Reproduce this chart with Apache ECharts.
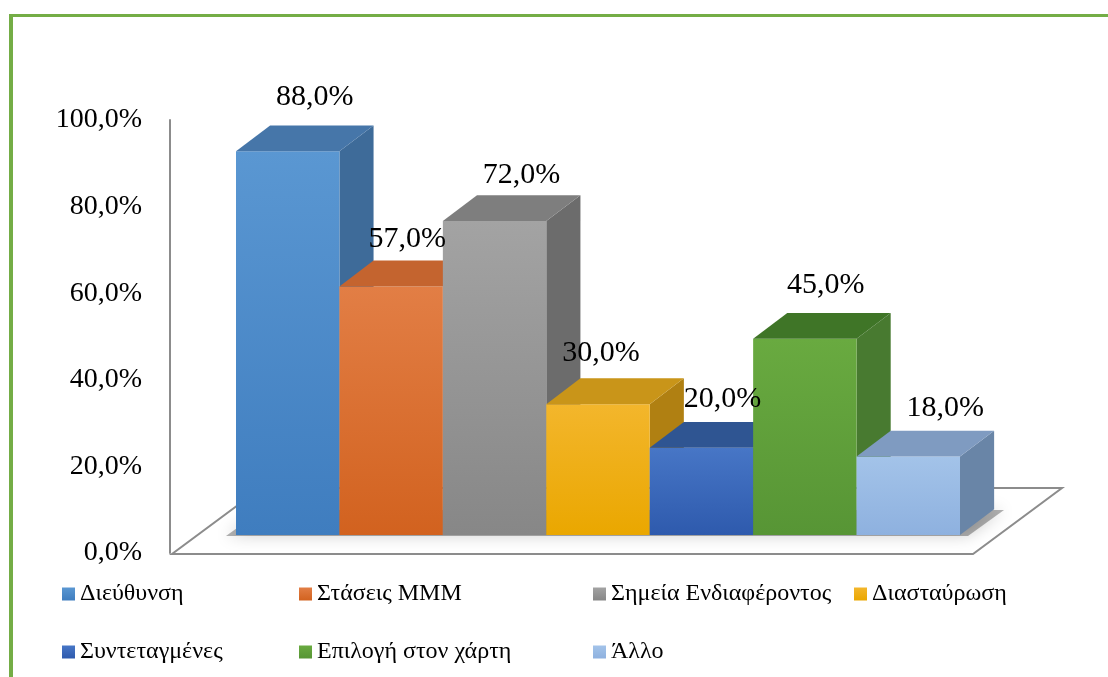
<!DOCTYPE html>
<html>
<head>
<meta charset="utf-8">
<script src="https://cdn.jsdelivr.net/npm/echarts@6/dist/echarts.min.js"></script>
<style>
html,body{margin:0;padding:0;background:#fff;}
#chart{width:1108px;height:677px;}
</style>
</head>
<body>
<div id="chart"></div>
<script>
// ---- data ----
const categories = ['Διεύθυνση','Στάσεις ΜΜΜ','Σημεία Ενδιαφέροντος','Διασταύρωση','Συντεταγμένες','Επιλογή στον χάρτη','Άλλο'];
const values = [88, 57, 72, 30, 20, 45, 18];
const yMin = 0, yMax = 100, yInterval = 20;

// ---- styles ----
const FONT = "'Liberation Serif', 'Times New Roman', 'DejaVu Serif', serif";
const faceColors = [
  {f1:'#5a97d2', f2:'#3f7dbf', top:'#4676a9', side:'#3e6b99'},
  {f1:'#e27e45', f2:'#d2621f', top:'#c4642f', side:'#b05625'},
  {f1:'#a3a3a3', f2:'#878787', top:'#7e7e7e', side:'#6c6c6c'},
  {f1:'#f3b62c', f2:'#eaa700', top:'#c99519', side:'#b08012'},
  {f1:'#4776c6', f2:'#2e5aad', top:'#2f5592', side:'#284b82'},
  {f1:'#69aa40', f2:'#579535', top:'#3f7527', side:'#487a30'},
  {f1:'#a3c3e9', f2:'#8eb1df', top:'#7f9bc1', side:'#6985a7'}
];
const labelNudge = [[27,-28],[16,-21],[27,-20],[3,-25],[21,-23],[21,-28],[37,-23]];

function grad(c){
  return new echarts.graphic.LinearGradient(0,0,0,1,[{offset:0,color:c.f1},{offset:1,color:c.f2}]);
}

function barRender(idx){
  return function(params, api){
    const cat = api.value(0), v = api.value(1);
    const top = api.coord([cat, v]);
    const bot = api.coord([cat, 0]);
    const w = api.size([1, 0])[0];
    const x0 = top[0] - w/2, x1 = top[0] + w/2;
    const dx = w * 0.33, dy = -w * 0.25;
    const c = faceColors[idx];
    return {
      type:'group',
      children:[
        {type:'polygon', shape:{points:[[x1,top[1]],[x1+dx,top[1]+dy],[x1+dx,bot[1]+dy],[x1,bot[1]]]},
          style:{fill:c.side}},
        {type:'rect', shape:{x:x0, y:top[1], width:w, height:bot[1]-top[1]},
          style:{fill:grad(c)}},
        {type:'polygon', shape:{points:[[x0,top[1]],[x1,top[1]],[x1+dx,top[1]+dy],[x0+dx,top[1]+dy]]},
          style:{fill:c.top}}
      ]
    };
  };
}

function labelRender(params, api){
  const i = params.dataIndex;
  const cat = api.value(0), v = api.value(1);
  const top = api.coord([cat, v]);
  const w = api.size([1, 0])[0];
  const dy = -w * 0.25;
  return {
    type:'text',
    x: top[0] + labelNudge[i][0],
    y: top[1] + dy + labelNudge[i][1],
    style:{
      text: v.toFixed(1).replace('.', ',') + '%',
      fill:'#000', fontFamily: FONT, fontSize: 30,
      align:'center', verticalAlign:'middle'
    }
  };
}

const series = categories.map((name, i) => ({
  type:'custom', name: name,
  xAxisIndex:0, yAxisIndex:0,
  data:[[i, values[i]]],
  itemStyle:{color: grad(faceColors[i])},
  renderItem: barRender(i),
  z: 2
}));
series.push({
  type:'custom', name:'labels',
  xAxisIndex:0, yAxisIndex:0,
  data: values.map((v, i) => [i, v]),
  renderItem: labelRender,
  z: 10, silent:true
});

function legendCol(left, names){
  return {
    orient:'vertical', icon:'rect', itemWidth:13, itemHeight:13, itemGap:34,
    selectedMode:false, top:577, left:left,
    data: names,
    textStyle:{fontFamily:FONT, fontSize:24, color:'#000', lineHeight:24}
  };
}

const option = {
  animation:false,
  backgroundColor:'#fff',
  textStyle:{fontFamily:FONT, color:'#000'},
  grid:[
    {left:236, right:148, top:99, bottom:142},
    {left:170, right:40, top:120, bottom:124}
  ],
  xAxis:[
    {type:'category', data:categories, gridIndex:0, show:false},
    {type:'value', gridIndex:1, show:false}
  ],
  yAxis:[
    {type:'value', gridIndex:0, min:yMin, max:yMax, show:false},
    {type:'value', gridIndex:1, min:yMin, max:yMax, interval:yInterval,
      axisLine:{show:true, lineStyle:{color:'#8c8c8c', width:2}},
      axisTick:{show:false}, splitLine:{show:false},
      axisLabel:{margin:28, color:'#000', fontFamily:FONT, fontSize:28,
        formatter: v => v.toFixed(1).replace('.', ',') + '%'}}
  ],
  legend:[
    legendCol(57, [categories[0], categories[4]]),
    legendCol(294, [categories[1], categories[5]]),
    legendCol(588, [categories[2], categories[6]]),
    legendCol(849, [categories[3]])
  ],
  graphic:[
    {type:'polygon', z:0, shape:{points:[[172,554],[973,554],[1062,488],[261,488]]},
      style:{fill:'#fff', stroke:'#8c8c8c', lineWidth:2}},
    {type:'polygon', z:0, shape:{points:[[226,536],[968,536],[1004,510],[262,510]]},
      style:{fill:'rgba(0,0,0,0.3)', shadowBlur:16, shadowColor:'rgba(0,0,0,0.6)'}},
    {type:'rect', z:0, shape:{x:9, y:14, width:4, height:663}, style:{fill:'#74ad46'}},
    {type:'rect', z:0, shape:{x:9, y:14, width:1099, height:3}, style:{fill:'#74ad46'}}
  ],
  series: series
};

const chart = echarts.init(document.getElementById('chart'), null, {renderer:'canvas'});
chart.setOption(option);
</script>
</body>
</html>
